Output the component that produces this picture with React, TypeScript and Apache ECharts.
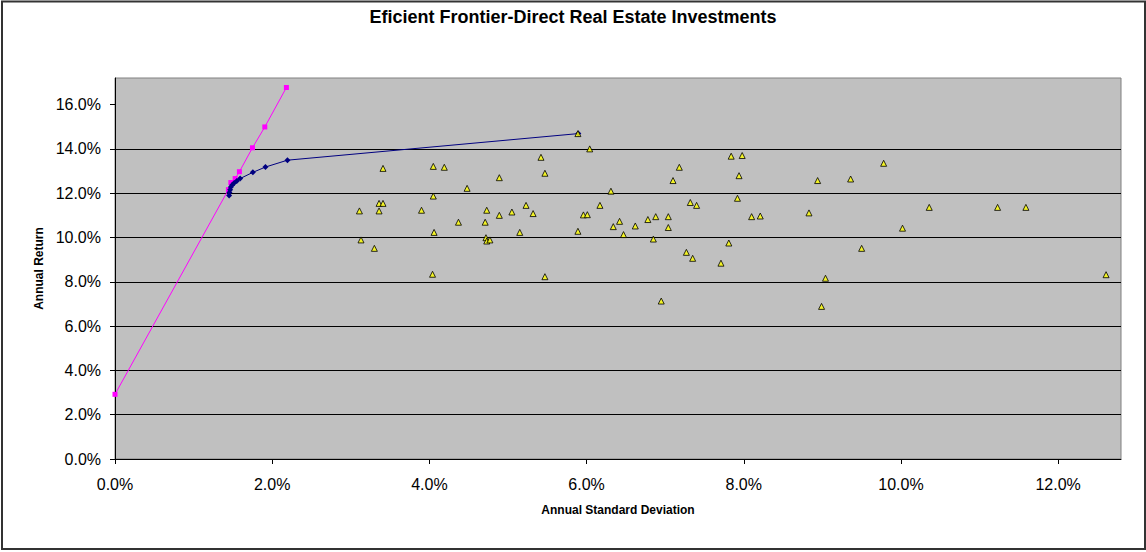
import React, { useEffect, useRef } from "react";
import * as echarts from "echarts";

const chartTitle = "Eficient Frontier-Direct Real Estate Investments";
const xAxisName = "Annual Standard Deviation";
const yAxisName = "Annual Return";

const xTicks = [0, 2, 4, 6, 8, 10, 12];
const yTicks = [0, 2, 4, 6, 8, 10, 12, 14, 16];

// Efficient frontier (std dev %, return %)
const frontierX = [1.452, 1.456, 1.465, 1.474, 1.491, 1.516, 1.55, 1.592, 1.754, 1.914, 2.194, 5.895];
const frontierY = [11.89, 12.03, 12.16, 12.28, 12.37, 12.46, 12.55, 12.66, 12.94, 13.18, 13.49, 14.69];

// Capital market line
const cmlX = [0, 1.443, 1.474, 1.529, 1.583, 1.749, 1.906, 2.181];
const cmlY = [2.92, 12.16, 12.48, 12.66, 12.97, 14.05, 14.99, 16.77];

// Individual assets
const assetX = [
  5.89, 6.04, 5.42, 3.41, 4.05, 4.19, 4.89, 5.47, 4.48, 6.31, 4.05, 3.36, 3.41, 3.11, 3.36, 3.9, 4.73, 4.89,
  5.05, 5.23, 5.32, 6.17, 5.96, 6.01, 6.42, 6.62, 6.34, 6.47, 4.37, 4.71, 4.06, 5.15, 5.89, 4.72, 4.73, 4.77,
  3.13, 3.3, 4.04, 5.47, 7.84, 7.98, 7.18, 7.1, 7.94, 8.94, 9.36, 9.78, 7.92, 7.32, 7.4, 8.83, 6.78, 6.88,
  7.04, 7.04, 8.1, 8.21, 6.85, 7.81, 7.27, 7.35, 7.71, 9.5, 9.04, 6.95, 8.99, 10.36, 11.23, 11.59, 10.02, 12.61,
];
const assetY = [
  14.69, 14.0, 13.62, 13.12, 13.21, 13.17, 12.7, 12.9, 12.22, 12.09, 11.87, 11.54, 11.54, 11.2, 11.2, 11.23, 11.23, 11.0,
  11.15, 11.45, 11.08, 11.45, 11.02, 11.03, 10.73, 10.52, 10.49, 10.13, 10.69, 10.69, 10.23, 10.23, 10.28, 9.99, 9.84, 9.89,
  9.89, 9.51, 8.34, 8.23, 13.67, 13.7, 13.17, 12.57, 12.79, 12.57, 12.64, 13.35, 11.77, 11.58, 11.45, 11.11, 10.81, 10.94,
  10.94, 10.45, 10.94, 10.97, 9.93, 9.75, 9.33, 9.06, 8.84, 9.51, 8.16, 7.13, 6.89, 11.36, 11.36, 11.36, 10.42, 8.32,
];

const FONT = '"Liberation Sans", Arial, sans-serif';
const zip = (xs: number[], ys: number[]) => xs.map((x, i) => [x, ys[i]]);
const pct = (v: number) => v.toFixed(1) + "%";

export default function App() {
  const ref = useRef<HTMLDivElement>(null);
  useEffect(() => {
    if (!ref.current) return;
    const chart = echarts.init(ref.current, null, { renderer: "svg" });
    chart.setOption({
      animation: false,
      backgroundColor: "#ffffff",
      title: {
        text: chartTitle,
        left: "center",
        top: 8,
        padding: 0,
        textStyle: { fontFamily: FONT, fontSize: 18, fontWeight: "bold", color: "#000" },
      },
      graphic: [
        {
          type: "rect",
          silent: true,
          shape: { x: 2, y: 1.5, width: 1143, height: 547.5 },
          style: { fill: "rgba(0,0,0,0)", stroke: "#333333", lineWidth: 2 },
        },
      ],
      grid: {
        left: 115,
        top: 78,
        right: 25,
        bottom: 93,
        show: true,
        backgroundColor: "#C0C0C0",
        borderColor: "#808080",
        borderWidth: 1,
        containLabel: false,
      },
      xAxis: {
        type: "value",
        min: 0,
        max: 12.8,
        interval: 2,
        name: xAxisName,
        nameLocation: "middle",
        nameGap: 45,
        nameTextStyle: { fontFamily: FONT, fontSize: 12, fontWeight: "bold", color: "#000" },
        axisLine: { show: true, onZero: false, lineStyle: { color: "#000", width: 1 } },
        axisTick: { show: true, length: 5, customValues: xTicks, lineStyle: { color: "#000" } },
        axisLabel: {
          customValues: xTicks,
          formatter: pct,
          margin: 17,
          fontFamily: FONT,
          fontSize: 16,
          color: "#000",
        },
        splitLine: { show: false },
      },
      yAxis: {
        type: "value",
        min: 0,
        max: 17.2,
        interval: 2,
        name: yAxisName,
        nameLocation: "middle",
        nameGap: 68,
        nameTextStyle: { fontFamily: FONT, fontSize: 12, fontWeight: "bold", color: "#000" },
        axisLine: { show: true, onZero: false, lineStyle: { color: "#000", width: 1 } },
        axisTick: { show: true, length: 5, customValues: yTicks, lineStyle: { color: "#000" } },
        axisLabel: {
          customValues: yTicks,
          formatter: pct,
          margin: 14,
          fontFamily: FONT,
          fontSize: 16,
          color: "#000",
        },
        splitLine: {
          show: true,
          showMinLine: false,
          showMaxLine: false,
          lineStyle: { color: "#000", width: 1 },
        },
      },
      series: [
        {
          name: "CML",
          type: "line",
          data: zip(cmlX, cmlY),
          symbol: "rect",
          symbolSize: 5,
          lineStyle: { color: "#FF00FF", width: 1 },
          itemStyle: { color: "#FF00FF" },
          z: 3,
        },
        {
          name: "Frontier",
          type: "line",
          data: zip(frontierX, frontierY),
          smooth: false,
          symbol: "diamond",
          symbolSize: 6,
          lineStyle: { color: "#000080", width: 1 },
          itemStyle: { color: "#000080" },
          z: 4,
        },
        {
          name: "Assets",
          type: "scatter",
          data: zip(assetX, assetY),
          symbol: "triangle",
          symbolSize: 6,
          itemStyle: { color: "#FFFF00", borderColor: "#000", borderWidth: 1 },
          z: 5,
        },
      ],
    });
    return () => chart.dispose();
  }, []);
  return (
    <div
      ref={ref}
      style={{ position: "absolute", left: 0, top: 0, width: 1146, height: 552 }}
    />
  );
}
